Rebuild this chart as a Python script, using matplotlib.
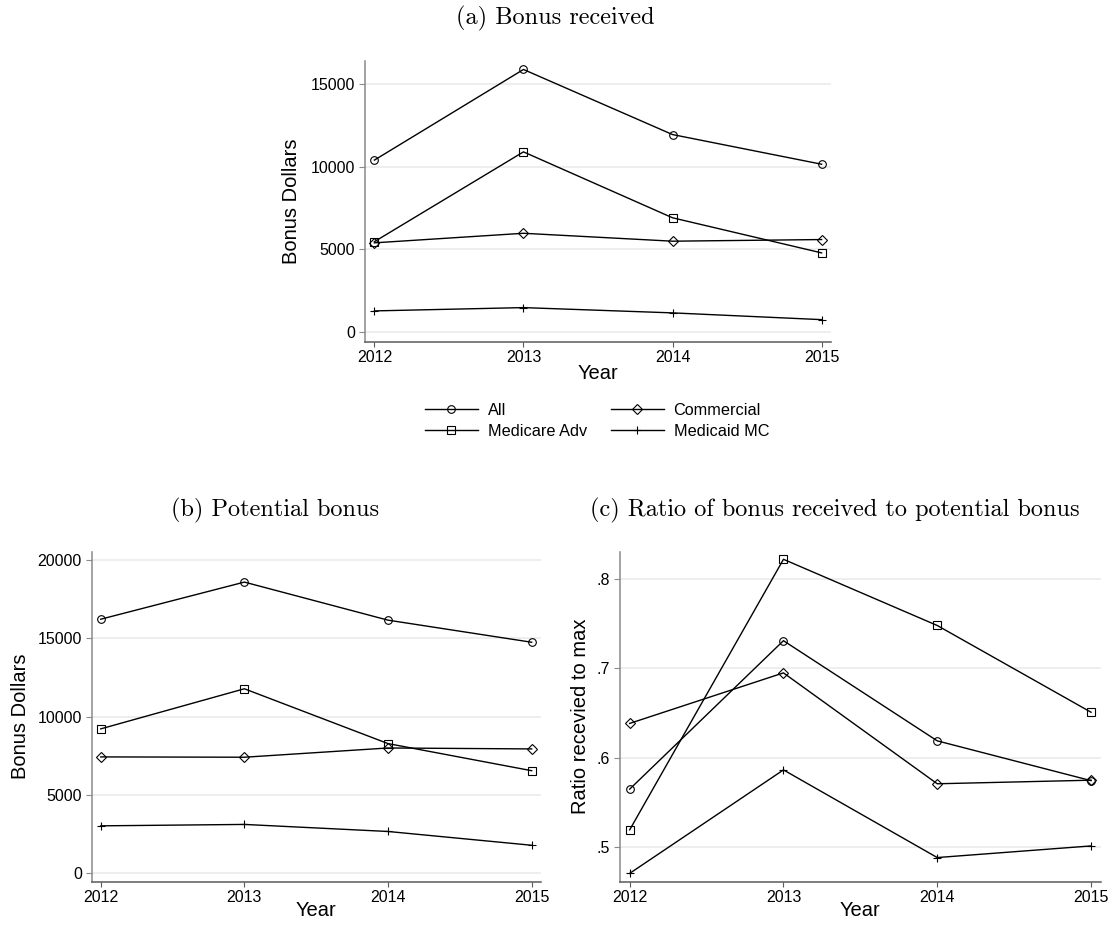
import numpy as np
import matplotlib
matplotlib.use("Agg")
from matplotlib import pyplot as plt
from matplotlib.ticker import FuncFormatter

years = [2012, 2013, 2014, 2015]
series_names = ["All", "Medicare Adv", "Commercial", "Medicaid MC"]
series_markers = ["o", "s", "D", "+"]

# (a) bonus received, dollars
received_all = [10400, 15900, 11950, 10150]
received_medicare = [5450, 10900, 6900, 4770]
received_commercial = [5380, 5960, 5480, 5580]
received_medicaid = [1250, 1450, 1130, 720]

# (b) potential bonus, dollars
potential_all = [16220, 18590, 16160, 14750]
potential_medicare = [9220, 11780, 8280, 6550]
potential_commercial = [7430, 7410, 8000, 7940]
potential_medicaid = [3030, 3120, 2670, 1790]

# (c) ratio received / potential
ratio_all = [0.565, 0.731, 0.619, 0.5745]
ratio_medicare = [0.5195, 0.822, 0.748, 0.651]
ratio_commercial = [0.6385, 0.695, 0.571, 0.575]
ratio_medicaid = [0.4708, 0.5865, 0.4885, 0.5015]

plt.rcParams['font.family'] = ['Liberation Sans', 'DejaVu Sans']

W, H = 1120, 931
fig = plt.figure(figsize=(W / 100, H / 100), dpi=100)


def px_axes(x0, y0, x1, y1):
    # rectangle given in pixels from the top-left corner
    return fig.add_axes([x0 / W, 1 - y1 / H, (x1 - x0) / W, (y1 - y0) / H])


def style_axes(ax, yticks, ylim, ylabel, ylab_x, xlab_y):
    ax.set_xlim(2011.937, 2015.063)
    ax.set_ylim(*ylim)
    ax.set_xticks(years)
    ax.set_yticks(yticks)
    ax.grid(axis='y', color='#eaeaea', linewidth=1.1)
    ax.set_axisbelow(True)
    for s in ['top', 'right']:
        ax.spines[s].set_visible(False)
    ax.spines['left'].set_color('#8a8a8a')
    ax.spines['bottom'].set_color('#5a5a5a')
    ax.spines['left'].set_linewidth(1.1)
    ax.spines['bottom'].set_linewidth(1.1)
    ax.tick_params(axis='y', length=4.5, width=0.8, color='#8a8a8a', pad=2.5, labelsize=11.5)
    ax.tick_params(axis='x', length=3.5, width=0.8, color='#5a5a5a', pad=2.5, labelsize=11.5)
    ax.set_ylabel(ylabel, fontsize=14.5)
    ax.set_xlabel("Year", fontsize=14.5)
    ax.yaxis.set_label_coords(ylab_x, 0.5)
    ax.xaxis.set_label_coords(0.5, xlab_y)


def draw_lines(ax, groups):
    lines = []
    for vals, name, mk in zip(groups, series_names, series_markers):
        ms = 5 if mk == 'D' else 5.5
        ln, = ax.plot(years, vals, color='black', linewidth=1.0, marker=mk,
                      markersize=ms, markerfacecolor='none', markeredgecolor='black',
                      markeredgewidth=0.8, label=name)
        lines.append(ln)
    return lines


# panel (a)
ax_a = px_axes(365, 61, 831, 342)
lines = draw_lines(ax_a, [received_all, received_medicare, received_commercial, received_medicaid])
style_axes(ax_a, [0, 5000, 10000, 15000], (-637, 16414), "Bonus Dollars", -0.137, -0.08)

# panel (b)
ax_b = px_axes(91.7, 551.7, 540.7, 881.7)
draw_lines(ax_b, [potential_all, potential_medicare, potential_commercial, potential_medicaid])
style_axes(ax_b, [0, 5000, 10000, 15000, 20000], (-536, 20530), "Bonus Dollars", -0.1365, -0.06)

# panel (c)
ax_c = px_axes(620, 551.7, 1100.7, 881.7)
draw_lines(ax_c, [ratio_all, ratio_medicare, ratio_commercial, ratio_medicaid])
style_axes(ax_c, [0.5, 0.6, 0.7, 0.8], (0.4615, 0.8305), "Ratio recevied to max", -0.0614, -0.06)
ax_c.yaxis.set_major_formatter(FuncFormatter(lambda v, p: ("%.1f" % v).lstrip('0')))

# legend under panel (a)
leg = fig.legend(handles=lines, loc='upper left', bbox_to_anchor=(425 / W, 1 - 403 / H),
                 ncol=2, frameon=False, fontsize=11.7, borderpad=0, borderaxespad=0,
                 handlelength=3.25, handletextpad=0.6, columnspacing=1.5,
                 labelspacing=0.38, numpoints=1)

# panel titles
title_kw = dict(family='cmr10', fontsize=17.5, ha='center', va='center')
fig.text(555 / W, 1 - 18 / H, "(a) Bonus received", **title_kw)
fig.text(275.5 / W, 1 - 510 / H, "(b) Potential bonus", **title_kw)
fig.text(835 / W, 1 - 510.5 / H, "(c) Ratio of bonus received to potential bonus", **title_kw)

fig.savefig("out.png", dpi=100)
